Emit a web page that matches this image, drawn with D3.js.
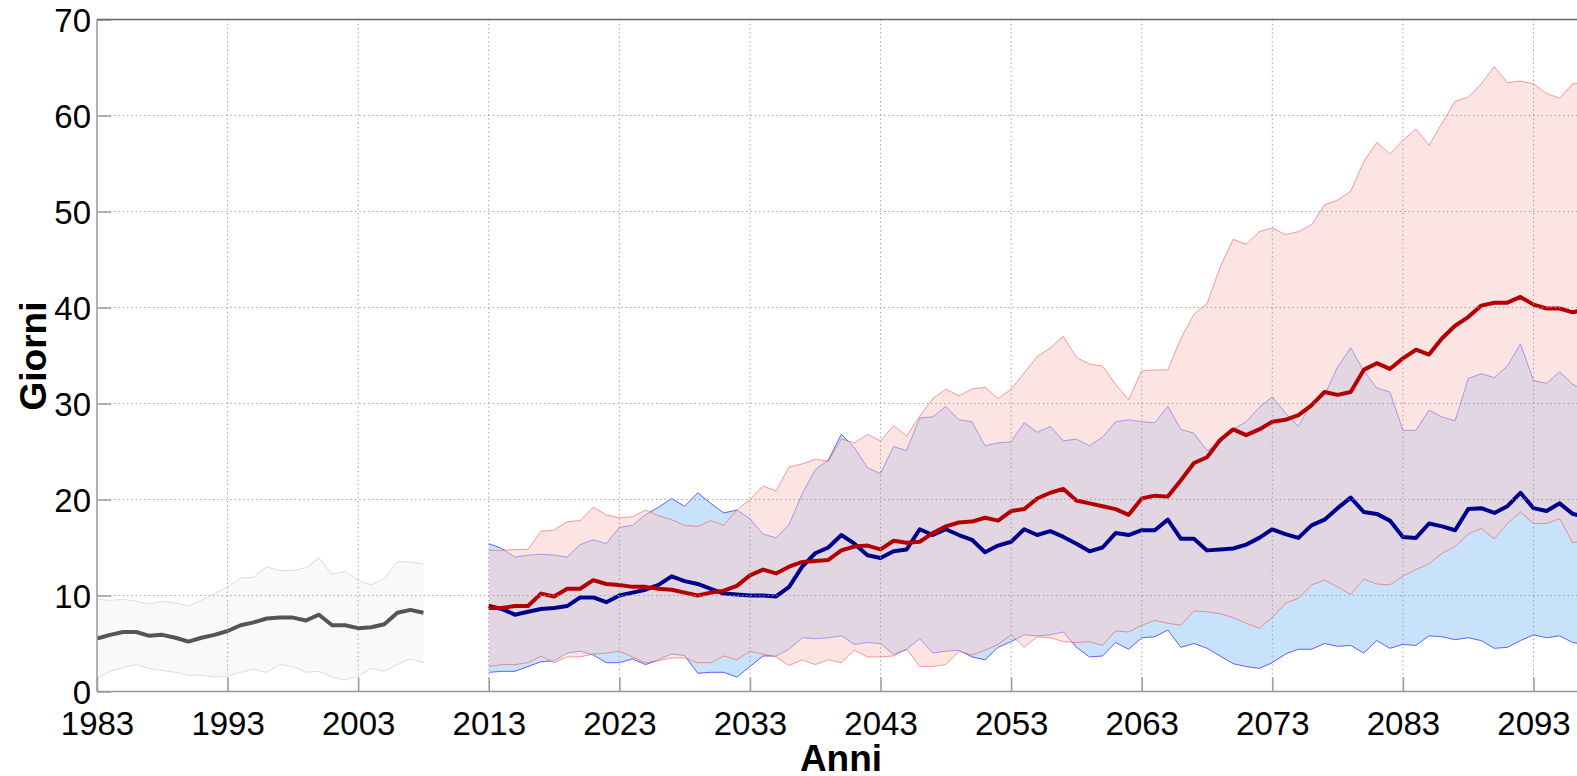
<!DOCTYPE html>
<html>
<head>
<meta charset="utf-8">
<script src="https://cdn.jsdelivr.net/npm/d3@7/dist/d3.min.js"></script>
<style>
  html, body { margin: 0; padding: 0; background: #fff; }
  svg { display: block; }
  text { font-family: "Liberation Sans", Arial, Helvetica, sans-serif; }
</style>
</head>
<body>
<svg id="chart" width="1577" height="776"></svg>
<script>
// ---------- DATA ----------
const histYears = [1983,1984,1985,1986,1987,1988,1989,1990,1991,1992,1993,1994,1995,1996,1997,1998,1999,2000,2001,2002,2003,2004,2005,2006,2007,2008];
const histMean  = [5.5,5.9,6.2,6.2,5.8,5.9,5.6,5.2,5.6,5.9,6.3,6.9,7.2,7.6,7.7,7.7,7.4,8.0,6.9,6.9,6.6,6.7,7.0,8.2,8.5,8.2];
const histUpper = [9.6,9.5,9.6,9.4,9.1,9.4,9.2,8.9,9.5,10.2,10.9,11.8,11.9,13.0,12.6,12.6,12.9,13.9,12.2,12.5,11.6,11.1,11.8,13.5,13.5,13.3];
const histLower = [1.4,2.1,2.5,2.8,2.4,2.2,2.0,1.7,1.7,1.5,1.6,2.0,2.3,2.0,2.8,2.6,2.0,2.1,1.5,1.2,1.6,2.4,2.1,2.8,3.4,3.0];

const futYears = [2013,2014,2015,2016,2017,2018,2019,2020,2021,2022,
  2023,2024,2025,2026,2027,2028,2029,2030,2031,2032,
  2033,2034,2035,2036,2037,2038,2039,2040,2041,2042,
  2043,2044,2045,2046,2047,2048,2049,2050,2051,2052,
  2053,2054,2055,2056,2057,2058,2059,2060,2061,2062,
  2063,2064,2065,2066,2067,2068,2069,2070,2071,2072,
  2073,2074,2075,2076,2077,2078,2079,2080,2081,2082,
  2083,2084,2085,2086,2087,2088,2089,2090,2091,2092,
  2093,2094,2095,2096,2097];

const redMean = [8.7,8.7,8.9,8.9,10.2,9.9,10.7,10.7,11.6,11.2,
  11.1,10.9,10.9,10.7,10.6,10.3,10.0,10.3,10.5,11.0,
  12.1,12.7,12.3,13.0,13.5,13.6,13.7,14.7,15.1,15.2,
  14.8,15.7,15.5,15.6,16.5,17.2,17.6,17.7,18.1,17.8,
  18.8,19.0,20.1,20.7,21.1,19.9,19.6,19.3,19.0,18.4,
  20.1,20.4,20.3,22.0,23.8,24.4,26.2,27.3,26.7,27.3,
  28.1,28.3,28.8,29.8,31.2,30.9,31.2,33.5,34.2,33.6,
  34.7,35.6,35.1,36.8,38.1,39.0,40.2,40.5,40.5,41.1,
  40.3,39.9,39.9,39.5,39.8];

const redUpper = [14.7,14.7,14.8,14.8,16.7,16.8,17.7,17.8,19.2,18.4,
  18.1,18.2,18.9,18.3,17.9,17.3,17.2,17.8,17.3,18.9,
  20.0,21.4,20.9,23.4,23.7,24.2,24.0,26.3,25.9,26.8,
  26.1,27.7,26.6,28.7,30.5,31.5,30.8,31.5,31.7,30.5,
  31.5,33.2,34.9,35.8,37.0,34.8,34.1,33.9,32.0,30.4,
  33.4,33.5,33.5,36.8,39.3,40.4,44.2,47.1,46.6,47.9,
  48.3,47.6,47.9,48.6,50.7,51.2,52.1,55.2,57.2,56.0,
  57.4,58.6,56.9,59.2,61.5,61.9,63.3,65.1,63.4,63.6,
  63.3,62.3,61.8,63.3,63.4];

const redLower = [2.6,2.8,2.8,3.0,3.7,3.0,3.6,3.6,3.9,4.0,
  4.2,3.6,3.0,3.2,3.5,3.5,3.0,3.0,3.7,3.3,
  4.2,3.9,3.6,2.7,3.3,2.8,3.3,3.0,4.3,3.6,
  3.6,3.7,4.4,2.6,2.6,2.8,4.2,3.8,4.3,4.9,
  5.9,4.6,5.7,5.6,5.2,5.1,5.2,4.8,6.3,6.2,
  6.9,7.4,7.1,6.9,8.4,8.3,8.1,7.7,7.1,6.6,
  7.7,9.2,9.7,11.1,11.6,10.9,10.1,11.7,11.2,11.1,
  12.0,12.7,13.3,14.4,15.1,16.4,17.0,15.9,17.5,18.7,
  17.5,17.5,18.0,15.5,15.7];

const blueMean = [8.9,8.6,8.0,8.3,8.6,8.7,8.9,9.8,9.8,9.3,
  10.0,10.3,10.6,11.1,12.0,11.5,11.2,10.7,10.2,10.1,
  10.0,10.0,9.9,10.9,13.0,14.4,15.0,16.3,15.4,14.2,
  13.9,14.6,14.8,16.9,16.3,16.9,16.3,15.8,14.5,15.2,
  15.6,16.9,16.3,16.7,16.1,15.4,14.6,15.0,16.5,16.3,
  16.8,16.8,17.9,15.9,15.9,14.7,14.8,14.9,15.3,16.0,
  16.9,16.4,16.0,17.3,17.9,19.1,20.2,18.7,18.5,17.8,
  16.1,16.0,17.5,17.2,16.8,19.0,19.1,18.6,19.3,20.7,
  19.1,18.8,19.6,18.5,18.2];

const blueUpper = [15.4,14.9,14.0,14.2,14.3,14.2,14.0,15.3,15.8,15.4,
  17.1,17.3,18.4,19.2,20.1,19.3,20.7,19.6,18.6,18.9,
  18.0,16.4,16.0,17.4,20.6,23.1,24.1,26.8,25.4,23.3,
  22.7,25.5,25.1,28.5,28.6,29.7,28.3,28.1,25.6,25.9,
  26.0,28.0,27.0,27.6,26.1,26.3,25.6,26.5,28.1,28.3,
  28.1,28.0,29.7,27.3,26.9,25.1,25.9,27.3,28.1,29.6,
  30.7,29.0,27.6,30.1,30.9,33.8,35.8,33.4,31.6,31.2,
  27.2,27.2,29.3,28.6,28.2,32.6,33.1,32.7,33.9,36.2,
  32.4,32.1,33.3,32.0,31.3];

const blueLower = [2.0,2.1,2.1,2.6,3.1,3.2,4.0,4.2,3.8,3.0,
  3.0,3.4,2.8,3.3,3.9,3.75,1.9,2.0,2.0,1.5,
  2.6,3.7,3.7,4.4,5.6,5.5,5.6,5.8,4.9,5.1,
  5.0,3.85,4.4,5.5,4.0,4.2,4.3,3.6,3.3,4.6,
  5.2,5.9,5.8,5.9,6.2,4.6,3.6,3.7,5.1,4.4,
  5.6,5.7,6.4,4.6,5.0,4.5,3.7,2.9,2.6,2.4,
  3.0,3.9,4.4,4.4,5.0,4.7,4.8,4.0,5.3,4.5,
  4.9,4.8,5.8,5.7,5.4,5.6,5.3,4.5,4.6,5.3,
  5.9,5.6,5.8,5.1,4.9];

const xTickValues = [1983,1993,2003,2013,2023,2033,2043,2053,2063,2073,2083,2093];
const yTickValues = [0,10,20,30,40,50,60,70];
const xLabel = "Anni";
const yLabel = "Giorni";

// ---------- LAYOUT ----------
const W = 1577, H = 776;
const pLeft = 97, pTop = 19.5, pBottom = 691.5, pRight = 1577;

const svg = d3.select("#chart");
const x = d3.scaleLinear().domain([1983, 2093]).range([pLeft, 1533.5]);
const y = d3.scaleLinear().domain([0, 70]).range([pBottom, pTop]);

svg.append("defs").append("clipPath").attr("id", "plotclip")
  .append("rect").attr("x", pLeft).attr("y", pTop).attr("width", pRight - pLeft + 10).attr("height", pBottom - pTop);

const plot = svg.append("g").attr("clip-path", "url(#plotclip)");

function band(years, lo, hi) {
  return d3.area().x((d, i) => x(years[i])).y0((d, i) => y(lo[i])).y1((d, i) => y(hi[i]))(years);
}
function line(years, vals) {
  return d3.line().x((d, i) => x(years[i])).y((d, i) => y(vals[i]))(years);
}

// Historic band
plot.append("path").attr("d", band(histYears, histLower, histUpper))
  .attr("fill", "#f9f9f9").attr("stroke", "none");
[histUpper, histLower].forEach(v => plot.append("path").attr("d", line(histYears, v))
  .attr("fill", "none").attr("stroke", "#dcdcdc").attr("stroke-width", 1));

// Blue band
plot.append("path").attr("d", band(futYears, blueLower, blueUpper))
  .attr("fill", "#c8e2fc").attr("stroke", "none");
[blueUpper, blueLower].forEach(v => plot.append("path").attr("d", line(futYears, v))
  .attr("fill", "none").attr("stroke", "#5f5fff").attr("stroke-width", 1));

// Red band (semi-transparent)
plot.append("path").attr("d", band(futYears, redLower, redUpper))
  .attr("fill", "rgb(249,201,197)").attr("fill-opacity", 0.5).attr("stroke", "none");
[redUpper, redLower].forEach(v => plot.append("path").attr("d", line(futYears, v))
  .attr("fill", "none").attr("stroke", "rgb(235,70,60)").attr("stroke-opacity", 0.5).attr("stroke-width", 1));

// Grid
const grid = svg.append("g").attr("clip-path", "url(#plotclip)");
xTickValues.forEach(v => grid.append("line")
  .attr("x1", x(v)).attr("x2", x(v)).attr("y1", pTop).attr("y2", pBottom)
  .attr("stroke", "#9a9a9a").attr("stroke-width", 1).attr("stroke-dasharray", "1.3,3"));
yTickValues.forEach(v => grid.append("line")
  .attr("x1", pLeft).attr("x2", pRight).attr("y1", y(v)).attr("y2", y(v))
  .attr("stroke", "#9a9a9a").attr("stroke-width", 1).attr("stroke-dasharray", "1.3,3"));

// Mean lines
plot.append("path").attr("d", line(histYears, histMean))
  .attr("fill", "none").attr("stroke", "#555555").attr("stroke-width", 4).attr("stroke-linejoin", "round");
plot.append("path").attr("d", line(futYears, blueMean))
  .attr("fill", "none").attr("stroke", "#00008c").attr("stroke-width", 4).attr("stroke-linejoin", "round");
plot.append("path").attr("d", line(futYears, redMean))
  .attr("fill", "none").attr("stroke", "#b40000").attr("stroke-width", 4).attr("stroke-linejoin", "round");

// Axes
const xAxis = d3.axisBottom(x).tickValues(xTickValues).tickFormat(d3.format("d")).tickSize(-14).tickPadding(0);
const gx = svg.append("g").attr("transform", `translate(0,${pBottom})`).call(xAxis);
gx.select(".domain").attr("d", `M${pLeft},0H${pRight}`).attr("stroke", "#9a9a9a").attr("stroke-width", 1.5);
gx.selectAll(".tick line").attr("stroke", "#9a9a9a").attr("stroke-width", 1.5);
gx.selectAll(".tick text").attr("y", 43).attr("dy", null)
  .attr("font-size", 33).attr("fill", "#000")
  .style("font-family", '"Liberation Sans", Arial, sans-serif');

const yAxis = d3.axisLeft(y).tickValues(yTickValues).tickSize(-14).tickPadding(0);
const gy = svg.append("g").attr("transform", `translate(${pLeft},0)`).call(yAxis);
gy.select(".domain").attr("d", `M0,${pTop}V${pBottom}`).attr("stroke", "#9a9a9a").attr("stroke-width", 1.5);
gy.selectAll(".tick line").attr("stroke", "#9a9a9a").attr("stroke-width", 1.5);
gy.selectAll(".tick text").attr("x", -6).attr("dy", null).attr("y", 12)
  .attr("font-size", 33).attr("fill", "#000")
  .style("font-family", '"Liberation Sans", Arial, sans-serif');

// Top border
svg.append("line").attr("x1", pLeft).attr("x2", pRight).attr("y1", pTop).attr("y2", pTop)
  .attr("stroke", "#666").attr("stroke-width", 1.5);

// Axis titles
svg.append("text").text(xLabel)
  .attr("x", 841).attr("y", 771).attr("text-anchor", "middle")
  .attr("font-size", 37).attr("font-weight", "bold").attr("fill", "#000");
svg.append("text").text(yLabel)
  .attr("transform", "translate(46,356) rotate(-90)").attr("text-anchor", "middle")
  .attr("font-size", 37).attr("font-weight", "bold").attr("fill", "#000");
</script>
</body>
</html>
